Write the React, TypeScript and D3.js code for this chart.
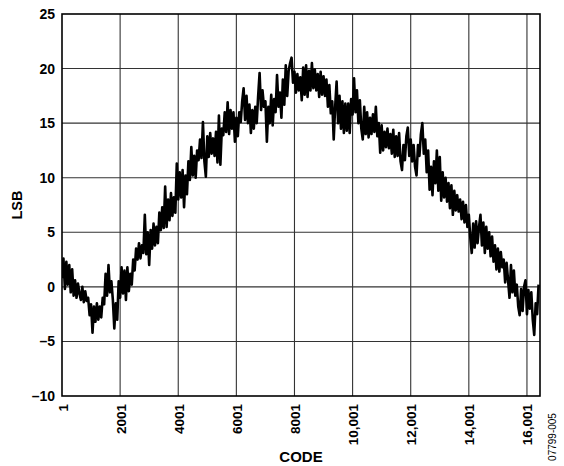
import React from "react";
import * as d3 from "d3";

// INL vs code (one reading every 50 codes)
const codeStart = 1;
const codeStep = 50;
const inl = [
  0.8, 2.6, -0.2, 2.3, 0.2, 2.0, -0.5, 1.6, -0.8, 0.6,
  -1.0, 0.3, -0.6, -1.2, 0.0, -1.4, -0.4, -1.3, -1.0, -2.6,
  -1.6, -4.2, -1.8, -3.2, -1.5, -3.0, -1.8, -2.8, -1.0, -1.6,
  1.2, -0.8, 2.0, -0.5, 0.5, -1.2, -3.8, -1.5, -3.0, 0.5,
  -1.0, 1.8, -0.6, 1.5, -1.2, 1.8, -0.4, 1.2, 0.2, 2.5,
  1.5, 3.5, 2.5, 4.0, 2.6, 3.8, 3.1, 6.6, 3.0, 5.0,
  2.0, 5.2, 3.5, 5.8, 3.8, 5.5, 4.0, 6.8, 5.2, 7.3,
  5.4, 9.2, 5.5, 8.0, 6.1, 8.6, 6.5, 8.2, 6.8, 11.3,
  8.0, 10.5, 8.2, 10.7, 7.3, 10.2, 8.5, 11.5, 9.8, 12.8,
  10.2, 12.0, 10.0, 12.5, 11.6, 13.5, 11.8, 15.1, 11.5, 10.1,
  13.8, 11.9, 14.1, 12.2, 13.6, 12.0, 14.2, 11.4, 15.7, 11.2,
  14.5, 13.9, 16.0, 14.2, 16.9, 14.0, 16.2, 14.5, 16.0, 13.3,
  15.5, 13.8, 16.0, 15.1, 17.0, 18.2, 15.3, 17.5, 15.0, 16.7,
  14.1, 16.2, 14.5, 16.5, 15.0, 17.5, 19.6, 16.2, 18.0, 16.5,
  17.0, 13.3, 16.5, 15.0, 17.6, 14.8, 17.2, 16.0, 19.4, 16.5,
  17.8, 15.5, 19.0, 16.7, 20.3, 17.5, 19.8, 20.5, 21.0, 18.7,
  19.7, 17.8, 19.5, 18.0, 19.2, 17.1, 20.1, 17.6, 20.3, 17.4,
  19.8, 18.0, 20.5, 18.2, 19.9, 18.0, 19.5, 17.4, 19.7, 17.6,
  19.3, 17.5, 19.0, 16.5, 18.5, 15.9, 17.0, 13.5, 16.5, 18.8,
  15.0, 17.5, 14.5, 17.0, 14.1, 16.8, 14.3, 16.8, 14.1, 17.2,
  15.8, 19.1, 16.0, 18.0, 15.0, 17.1, 14.5, 13.5, 16.5, 14.0,
  16.0, 13.7, 15.5, 14.0, 15.8, 14.2, 16.5, 13.8, 15.0, 12.3,
  14.8, 12.5, 14.2, 12.8, 14.5, 12.7, 14.0, 12.2, 14.4, 11.9,
  13.8, 12.0, 14.1, 11.5, 10.7, 13.0, 11.6, 13.8, 14.6, 12.0,
  13.5, 11.5, 13.0, 11.0, 10.2, 13.0, 12.0, 14.0, 15.0, 12.2,
  13.5, 10.5, 12.5, 8.9, 11.0, 8.4, 11.5, 9.5, 12.5, 8.8,
  11.9, 7.9, 10.5, 8.2, 10.0, 7.8, 9.5, 7.2, 9.3, 6.6,
  8.8, 7.0, 8.4, 6.9, 8.0, 6.2, 7.8, 5.9, 7.5, 5.5,
  6.6, 4.5, 3.1, 5.8, 3.6, 6.0, 4.0, 5.5, 6.6, 3.8,
  5.9, 3.1, 5.5, 3.5, 5.0, 2.8, 4.6, 2.3, 3.8, 1.6,
  3.5, 1.4, 3.2, 1.8, 2.5, 0.4, 2.2, 0.6, -1.0, 2.0,
  -0.5, 1.5, -0.8, 0.2, -1.8, -2.6, -0.2, -2.2, 0.0, 0.6,
  -2.5, -0.3, -2.0, -0.5, -3.0, -4.4, -1.5, -2.5, 0.2,
];

const xTicks = [1, 2001, 4001, 6001, 8001, 10001, 12001, 14001, 16001];
const xTickLabels = ["1", "2001", "4001", "6001", "8001", "10,001", "12,001", "14,001", "16,001"];
const yTicks = [-10, -5, 0, 5, 10, 15, 20, 25];

const W = 564;
const H = 466;
const margin = { top: 14, right: 24, bottom: 70, left: 62 };
const font = "Arial, 'Liberation Sans', Helvetica, sans-serif";

const App: React.FC = () => {
  const x = d3.scaleLinear().domain([1, 16450]).range([margin.left, W - margin.right]);
  const y = d3.scaleLinear().domain([-10, 25]).range([H - margin.bottom, margin.top]);

  const pts: [number, number][] = inl.map((v, i) => [codeStart + i * codeStep, v]);
  const line = d3
    .line<[number, number]>()
    .x((d) => x(d[0]))
    .y((d) => y(d[1]));

  const [x0, x1] = x.range();
  const [y0, y1] = y.range();

  return (
    <svg
      width={W}
      height={H}
      style={{ position: "absolute", left: 0, top: 0, background: "#fff" }}
      fontFamily={font}
    >
      <defs>
        <clipPath id="plot">
          <rect x={x0} y={y1} width={x1 - x0} height={y0 - y1} />
        </clipPath>
      </defs>

      {/* grid */}
      {xTicks.slice(1).map((t) => (
        <line key={"gx" + t} x1={x(t)} x2={x(t)} y1={y1} y2={y0} stroke="#333" strokeWidth={1.1} />
      ))}
      {yTicks.slice(1, -1).map((t) => (
        <line key={"gy" + t} x1={x0} x2={x1} y1={y(t)} y2={y(t)} stroke="#333" strokeWidth={1.1} />
      ))}

      <path
        d={line(pts) ?? ""}
        fill="none"
        stroke="#000"
        strokeWidth={2.6}
        strokeLinejoin="round"
        clipPath="url(#plot)"
      />

      <rect x={x0} y={y1} width={x1 - x0} height={y0 - y1} fill="none" stroke="#000" strokeWidth={1.6} />

      {/* y ticks */}
      {yTicks.map((t) => (
        <text
          key={"yl" + t}
          x={x0 - 7}
          y={y(t)}
          textAnchor="end"
          dominantBaseline="central"
          fontSize={14}
          fontWeight="bold"
        >
          {t < 0 ? "\u2013" + Math.abs(t) : String(t)}
        </text>
      ))}

      {/* x ticks */}
      {xTicks.map((t, i) => (
        <text
          key={"xl" + t}
          transform={`translate(${x(t) + 1},${y0 + 8}) rotate(-90)`}
          textAnchor="end"
          dominantBaseline="central"
          fontSize={13.5}
          fontWeight="bold"
        >
          {xTickLabels[i]}
        </text>
      ))}

      <text x={(x0 + x1) / 2} y={H - 4} textAnchor="middle" fontSize={15} fontWeight="bold">
        CODE
      </text>
      <text
        transform={`translate(17,${(y0 + y1) / 2}) rotate(-90)`}
        textAnchor="middle"
        dominantBaseline="central"
        fontSize={14.5}
        fontWeight="bold"
      >
        LSB
      </text>
      <text
        transform={`translate(552,${H - 29}) rotate(-90)`}
        textAnchor="middle"
        dominantBaseline="central"
        fontSize={10}
      >
        07799-005
      </text>
    </svg>
  );
};

export default App;
